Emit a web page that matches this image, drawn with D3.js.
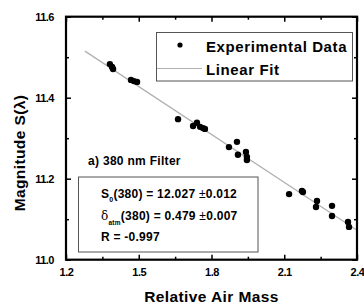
<!DOCTYPE html>
<html><head><meta charset="utf-8">
<script src="https://cdn.jsdelivr.net/npm/d3@7"></script>
<style>body{margin:0;background:#fff}svg text{font-family:"Liberation Sans",Arial,sans-serif;font-weight:bold}</style>
</head><body><div id="c"></div>
<script>
const airMass = [1.381,1.390,1.394,1.468,1.480,1.493,1.662,1.724,1.740,1.753,1.765,1.773,1.872,1.905,1.909,1.942,1.946,1.946,2.120,2.173,2.177,2.235,2.231,2.297,2.297,2.363,2.367];
const magnitude = [11.483,11.476,11.471,11.444,11.441,11.439,11.347,11.330,11.338,11.328,11.325,11.323,11.278,11.291,11.259,11.266,11.254,11.246,11.162,11.170,11.167,11.145,11.130,11.133,11.108,11.093,11.081];
const fitX = [1.278, 2.4];
const fitY = [11.515, 11.073];
const xTicks = [1.2,1.5,1.8,2.1,2.4];
const xMinor = [1.35,1.65,1.95,2.25];
const yTicks = [11.0,11.2,11.4,11.6];
const yMinor = [11.1,11.3,11.5];

const W=364,H=306, L=66,R=357,T=16.7,B=259.7;
const svg=d3.select("#c").append("svg").attr("width",W).attr("height",H);
const x=d3.scaleLinear().domain([1.2,2.4]).range([L,R]);
const y=d3.scaleLinear().domain([11.0,11.6]).range([B,T]);

// fit line
svg.append("line").attr("x1",x(fitX[0])).attr("y1",y(fitY[0])).attr("x2",x(fitX[1])).attr("y2",y(fitY[1]))
  .attr("stroke","#b0b0b0").attr("stroke-width",1.2);

// points
svg.selectAll("circle.pt").data(airMass).enter().append("circle").attr("class","pt")
  .attr("cx",(d)=>x(d)).attr("cy",(d,i)=>y(magnitude[i])).attr("r",3.2).attr("fill","#000");

// axes with inward ticks
function ax(gen, tr, vals, size, fmt){
  const g=svg.append("g").attr("transform",tr).call(gen.tickValues(vals).tickSize(size).tickFormat(fmt||""));
  g.select(".domain").remove();
  g.selectAll(".tick line").attr("stroke","#000").attr("stroke-width",1.5);
  return g;
}
const fx=d3.format(".1f");
const gxb=ax(d3.axisBottom(x),`translate(0,${B})`,xTicks,-5,fx);
gxb.selectAll("text").attr("y",8.5).attr("dy","0.71em").attr("font-size",11).attr("letter-spacing",-0.4).attr("fill","#000");
ax(d3.axisBottom(x),`translate(0,${B})`,xMinor,-3);
ax(d3.axisTop(x),`translate(0,${T})`,xTicks,-5);
ax(d3.axisTop(x),`translate(0,${T})`,xMinor,-3);
const gyl=ax(d3.axisLeft(y),`translate(${L},0)`,yTicks,-5,fx);
gyl.selectAll("text").attr("x",-12).attr("font-size",11).attr("letter-spacing",-0.5).attr("fill","#000");
ax(d3.axisLeft(y),`translate(${L},0)`,yMinor,-3);
ax(d3.axisRight(y),`translate(${R},0)`,yTicks,-5);
ax(d3.axisRight(y),`translate(${R},0)`,yMinor,-3);

svg.append("rect").attr("x",L).attr("y",T).attr("width",R-L).attr("height",B-T)
  .attr("fill","none").attr("stroke","#000").attr("stroke-width",2.2);

// axis titles
svg.append("text").attr("x",(L+R)/2).attr("y",302).attr("text-anchor","middle").attr("font-size",15.5).attr("letter-spacing",0.4).text("Relative Air Mass");
svg.append("text").attr("transform","translate(25,153) rotate(-90)").attr("text-anchor","middle").attr("font-size",15.5).attr("letter-spacing",0.4)
  .text("Magnitude S(λ)");

// legend
svg.append("rect").attr("x",156.5).attr("y",32.5).attr("width",196).attr("height",48.5).attr("fill","#fff").attr("stroke","#555").attr("stroke-width",1);
svg.append("circle").attr("cx",180).attr("cy",45).attr("r",2.6).attr("fill","#000");
svg.append("text").attr("x",206).attr("y",52).attr("font-size",15).attr("letter-spacing",0.6).text("Experimental Data");
svg.append("line").attr("x1",157).attr("x2",202).attr("y1",68.5).attr("y2",68.5).attr("stroke","#b0b0b0").attr("stroke-width",1.2);
svg.append("text").attr("x",206).attr("y",75).attr("font-size",15).attr("letter-spacing",0.6).text("Linear Fit");

// annotation
svg.append("text").attr("x",88).attr("y",165).attr("font-size",12).attr("letter-spacing",0.3).text("a) 380 nm Filter");
svg.append("rect").attr("x",78.5).attr("y",177).attr("width",179.5).attr("height",75).attr("fill","#fff").attr("stroke","#555").attr("stroke-width",1);
const t1=svg.append("text").attr("x",101).attr("y",198).attr("font-size",12).attr("letter-spacing",0.25);
t1.append("tspan").text("S");
t1.append("tspan").attr("font-size",7).attr("dy",4).text("0");
t1.append("tspan").attr("dy",-4).text("(380) = 12.027 ");
t1.append("tspan").attr("font-weight","normal").text("±");
t1.append("tspan").text("0.012");
const t2=svg.append("text").attr("x",101).attr("y",219.5).attr("font-size",12).attr("letter-spacing",0.25);
t2.append("tspan").attr("font-weight","normal").attr("font-family","DejaVu Serif, serif").text("δ");
t2.append("tspan").attr("font-size",6.5).attr("dy",5).text("atm");
t2.append("tspan").attr("dy",-5).text("(380) = 0.479 ");
t2.append("tspan").attr("font-weight","normal").text("±");
t2.append("tspan").text("0.007");
svg.append("text").attr("x",101).attr("y",241).attr("font-size",12).attr("letter-spacing",0.25).text("R = -0.997");
</script></body></html>
